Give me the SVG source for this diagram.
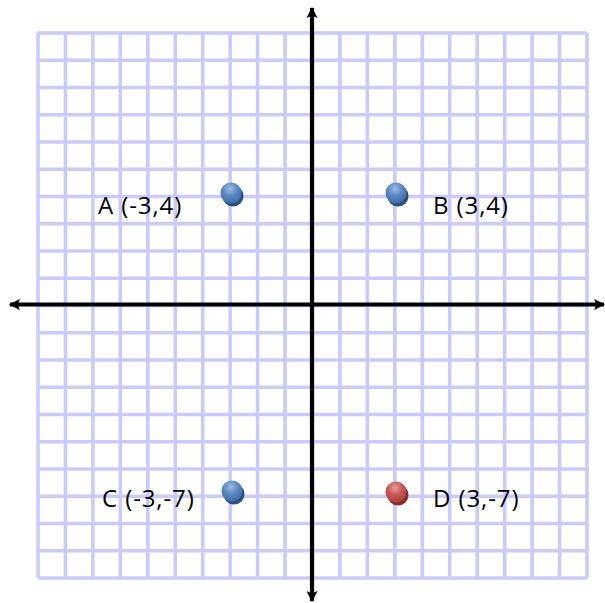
<svg xmlns="http://www.w3.org/2000/svg" width="605" height="603" viewBox="0 0 605 603">
  <defs>
    <radialGradient id="gBlue" cx="0.45" cy="0.3" r="0.7">
      <stop offset="0" stop-color="#9dbbe3"/>
      <stop offset="0.5" stop-color="#5a88c4"/>
      <stop offset="1" stop-color="#3f6ba6"/>
    </radialGradient>
    <radialGradient id="gRed" cx="0.45" cy="0.3" r="0.7">
      <stop offset="0" stop-color="#e6a09e"/>
      <stop offset="0.5" stop-color="#c95855"/>
      <stop offset="1" stop-color="#a63f3c"/>
    </radialGradient>
    <marker id="arrow" viewBox="0 0 10 10" refX="9" refY="5" markerWidth="11" markerHeight="11" markerUnits="userSpaceOnUse" orient="auto">
      <path d="M0,0 L10,5 L0,10 L2,5 z" fill="#000"/>
    </marker>
  </defs>
  <style>
    .grid { fill: none; stroke: #cacafd; stroke-width: 3.6; }
    .axis { fill: none; stroke: #000; stroke-width: 4.2; marker-end: url(#arrow); }
    .lbl { font-family: "Open Sans", "Liberation Sans", sans-serif; font-size: 24px; fill: #000; letter-spacing: 0.9px; }
    .shBlue { fill: #2d4f7e; }
    .shRed { fill: #8a2d2a; }
    .ptBlue { fill: url(#gBlue); }
    .ptRed { fill: url(#gRed); }
  </style>
  <rect x="0" y="0" width="605" height="603" fill="#fff"/>
  <g id="grid">
    <path class="grid" d="M38,33V578 M65.45,33V578 M92.9,33V578 M120.35,33V578 M147.8,33V578 M175.25,33V578 M202.7,33V578 M230.15,33V578 M257.6,33V578 M285.05,33V578 M312.5,33V578 M339.95,33V578 M367.4,33V578 M394.85,33V578 M422.3,33V578 M449.75,33V578 M477.2,33V578 M504.65,33V578 M532.1,33V578 M559.55,33V578 M587,33V578"/>
    <path class="grid" d="M38,33H587 M38,60.25H587 M38,87.5H587 M38,114.75H587 M38,142H587 M38,169.25H587 M38,196.5H587 M38,223.75H587 M38,251H587 M38,278.25H587 M38,305.5H587 M38,332.75H587 M38,360H587 M38,387.25H587 M38,414.5H587 M38,441.75H587 M38,469H587 M38,496.25H587 M38,523.5H587 M38,550.75H587 M38,578H587"/>
  </g>
  <g id="connectors">
    <path class="axis" d="M312,304.5 V8"/>
    <path class="axis" d="M312,304.5 V601"/>
    <path class="axis" d="M312,304.5 H10"/>
    <path class="axis" d="M312,304.5 H604"/>
  </g>
  <g id="A">
    <circle class="shBlue" cx="233" cy="196" r="10.5"/>
    <circle class="ptBlue" cx="231" cy="193" r="10.5"/>
    <text class="lbl" x="98" y="214">A (-3,4)</text>
  </g>
  <g id="B">
    <circle class="shBlue" cx="398" cy="196" r="10.5"/>
    <circle class="ptBlue" cx="396" cy="193" r="10.5"/>
    <text class="lbl" x="433" y="214">B (3,4)</text>
  </g>
  <g id="C">
    <circle class="shBlue" cx="234" cy="494" r="10.5"/>
    <circle class="ptBlue" cx="232" cy="491" r="10.5"/>
    <text class="lbl" x="102" y="507">C (-3,-7)</text>
  </g>
  <g id="D">
    <circle class="shRed" cx="398" cy="495" r="10.5"/>
    <circle class="ptRed" cx="396" cy="492" r="10.5"/>
    <text class="lbl" x="433" y="507">D (3,-7)</text>
  </g>
</svg>
